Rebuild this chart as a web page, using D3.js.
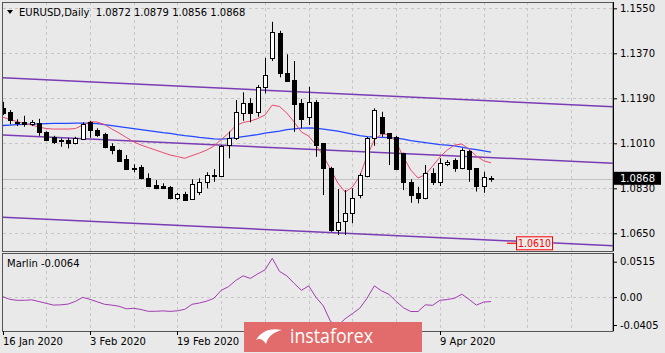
<!DOCTYPE html>
<html>
<head>
<meta charset="utf-8">
<script src="https://cdn.jsdelivr.net/npm/d3@7"></script>
<style>
body { margin: 0; background: #e9e9e9; }
svg { display: block; font-family: "DejaVu Sans", sans-serif; }
</style>
</head>
<body>
<script>
// daily EURUSD bars, index 0 = 16 Jan 2020
const opens = [1.1150,1.1136,1.1094,1.1095,1.1088,1.1090,1.1054,1.1034,1.1023,1.1022,1.1010,1.1027,1.1094,1.1064,1.1046,1.0999,1.0983,1.0947,1.0913,1.0916,1.0872,1.0843,1.0838,1.0836,1.0790,1.0806,1.0787,1.0814,1.0854,1.0880,1.0880,1.1000,1.1030,1.1132,1.1170,1.1136,1.1236,1.1350,1.1450,1.1290,1.1262,1.1170,1.1116,1.1176,1.1010,1.0912,1.0663,1.0697,1.0730,1.0803,1.0879,1.1030,1.1116,1.1050,1.1036,1.0970,1.0856,1.0812,1.0790,1.0890,1.0856,1.0927,1.0943,1.0910,1.0980,1.0910,1.0839,1.0872];
const highs = [1.1176,1.1143,1.1106,1.1120,1.1103,1.1108,1.1058,1.1040,1.1030,1.1032,1.1036,1.1094,1.1100,1.1070,1.1052,1.1010,1.0986,1.0963,1.0926,1.0923,1.0890,1.0863,1.0850,1.0839,1.0812,1.0816,1.0866,1.0870,1.0894,1.0907,1.1003,1.1057,1.1183,1.1214,1.1190,1.1243,1.1352,1.1496,1.1460,1.1366,1.1339,1.1187,1.1236,1.1183,1.1010,1.0916,1.0827,1.0823,1.0830,1.0890,1.1036,1.1150,1.1136,1.1050,1.1039,1.0972,1.0866,1.0836,1.0923,1.0910,1.0950,1.0943,1.0950,1.0990,1.0983,1.0910,1.0896,1.0879];
const lows = [1.1123,1.1086,1.1079,1.1076,1.1079,1.1040,1.1019,1.1007,1.0996,1.0990,1.1006,1.1023,1.1032,1.1036,1.0990,1.0966,1.0936,1.0903,1.0894,1.0866,1.0836,1.0826,1.0827,1.0786,1.0783,1.0779,1.0783,1.0803,1.0830,1.0856,1.0878,1.0950,1.1023,1.1100,1.1094,1.1116,1.1210,1.1339,1.1274,1.1256,1.1056,1.1070,1.1083,1.0956,1.0803,1.0656,1.0643,1.0643,1.0690,1.0790,1.0874,1.1000,1.1036,1.0923,1.0903,1.0823,1.0772,1.0770,1.0786,1.0843,1.0839,1.0919,1.0896,1.0906,1.0856,1.0817,1.0812,1.0856];
const closes = [1.1130,1.1103,1.1089,1.1086,1.1096,1.1054,1.1023,1.1014,1.1018,1.1011,1.1032,1.1086,1.1063,1.1042,1.0994,1.0983,1.0940,1.0907,1.0911,1.0872,1.0840,1.0830,1.0832,1.0790,1.0806,1.0783,1.0846,1.0854,1.0883,1.0882,1.0999,1.1030,1.1134,1.1170,1.1132,1.1236,1.1283,1.1454,1.1290,1.1260,1.1166,1.1106,1.1176,1.1003,1.0912,1.0663,1.0694,1.0730,1.0790,1.0883,1.1030,1.1143,1.1050,1.1030,1.0906,1.0856,1.0803,1.0790,1.0890,1.0856,1.0930,1.0936,1.0910,1.0983,1.0910,1.0837,1.0874,1.0868];

// moving averages as drawn
const maFast = [1.1115,1.1105,1.1097,1.1089,1.1083,1.1075,1.1069,1.1067,1.1067,1.1067,1.1069,1.1083,1.1096,1.1095,1.1085,1.1067,1.1051,1.1033,1.1016,1.1003,1.0993,1.0983,1.0973,1.0963,1.0957,1.0950,1.0961,1.0971,1.0983,1.0999,1.1025,1.1050,1.1081,1.1093,1.1099,1.1109,1.1123,1.1163,1.1157,1.1131,1.1095,1.1055,1.1039,1.1003,1.0959,1.0907,1.0851,1.0815,1.0835,1.0879,1.0959,1.1023,1.1047,1.1045,1.1015,1.0955,1.0903,1.0871,1.0885,1.0919,1.0955,1.0983,1.1003,1.1007,1.0987,1.0959,1.0940,1.0932];
const maSlow = [1.1081,1.1083,1.1085,1.1086,1.1087,1.1088,1.1089,1.1090,1.1090,1.1090,1.1091,1.1091,1.1090,1.1089,1.1085,1.1081,1.1077,1.1073,1.1069,1.1065,1.1061,1.1057,1.1053,1.1050,1.1045,1.1041,1.1038,1.1034,1.1031,1.1028,1.1027,1.1029,1.1033,1.1037,1.1041,1.1045,1.1051,1.1055,1.1059,1.1065,1.1068,1.1071,1.1072,1.1071,1.1067,1.1063,1.1059,1.1053,1.1047,1.1041,1.1037,1.1035,1.1034,1.1033,1.1031,1.1027,1.1021,1.1017,1.1013,1.1009,1.1005,1.1003,1.1000,1.0995,1.0989,1.0985,1.0980,1.0975];

// Marlin oscillator
const marlin = [0.0009,-0.0032,-0.0046,-0.0046,-0.0039,-0.0064,-0.0090,-0.0116,-0.0112,-0.0101,-0.0061,-0.0003,-0.0032,-0.0068,-0.0104,-0.0116,-0.0133,-0.0170,-0.0162,-0.0180,-0.0206,-0.0206,-0.0200,-0.0207,-0.0199,-0.0177,-0.0104,-0.0086,-0.0058,-0.0017,0.0099,0.0152,0.0243,0.0309,0.0272,0.0338,0.0396,0.0565,0.0374,0.0309,0.0200,0.0099,0.0164,-0.0003,-0.0126,-0.0354,-0.0416,-0.0314,-0.0239,-0.0162,-0.0017,0.0164,0.0091,0.0041,-0.0061,-0.0155,-0.0209,-0.0209,-0.0112,-0.0119,-0.0046,-0.0035,-0.0017,0.0043,-0.0032,-0.0116,-0.0072,-0.0064];

// channel lines: [startIndex, startPrice, endIndex, endPrice]
const channelUpper = [0, 1.1272, 84, 1.1156];
const channelMiddle = [0, 1.1043, 84, 1.0930];
const channelLower = [0, 1.0714, 84, 1.0600];
const targetLevel = 1.0610;

const priceTicks = [1.0650, 1.0830, 1.1010, 1.1190, 1.1370, 1.1550];
const marlinTicks = [0.0515, 0, -0.0405];
const marlinTickLabels = ["0.0515", "0.00", "-0.0405"];
const dateTickIndex = [0, 12, 24, 60];
const dateTickLabels = ["16 Jan 2020", "3 Feb 2020", "19 Feb 2020", "9 Apr 2020"];

const L = 2.5, R = 613, mainTop = 2, mainBot = 251, indTop = 253, indBot = 331;
const fmt4 = v => d3.format(".4f")(v).replace("\u2212", "-");

const svg = d3.select("body").append("svg")
    .attr("width", 665)
    .attr("height", 353);

svg.append("rect").attr("width", 665).attr("height", 353).attr("fill", "#e9e9e9");

const x = d3.scaleLinear().domain([0, 84]).range([2.5, 614.9]);
const y = d3.scaleLinear().domain([1.0650, 1.1550]).range([233.3, 8.3]);
const ym = d3.scaleLinear().domain([-0.0405, 0.0515]).range([325, 261.7]);

const defs = svg.append("defs");
defs.append("clipPath").attr("id", "clipMain")
    .append("rect").attr("x", 3).attr("y", mainTop + 1).attr("width", R - 3).attr("height", mainBot - mainTop - 1);
defs.append("clipPath").attr("id", "clipInd")
    .append("rect").attr("x", 3).attr("y", indTop + 1).attr("width", R - 3).attr("height", indBot - indTop - 1);

// grid
const gridX = d3.range(6, 84, 6);
const grid = svg.append("g").attr("stroke", "#c6c6c6").attr("stroke-dasharray", "3,3").attr("shape-rendering", "crispEdges");
gridX.forEach(i => {
    grid.append("line").attr("x1", Math.round(x(i)) + 0.5).attr("x2", Math.round(x(i)) + 0.5)
        .attr("y1", mainTop).attr("y2", mainBot);
    grid.append("line").attr("x1", Math.round(x(i)) + 0.5).attr("x2", Math.round(x(i)) + 0.5)
        .attr("y1", indTop).attr("y2", indBot);
});
priceTicks.forEach(p => {
    grid.append("line").attr("x1", L).attr("x2", R).attr("y1", Math.round(y(p)) + 0.5).attr("y2", Math.round(y(p)) + 0.5);
});
grid.append("line").attr("x1", L).attr("x2", R).attr("y1", Math.round(ym(0)) + 0.5).attr("y2", Math.round(ym(0)) + 0.5);

const main = svg.append("g").attr("clip-path", "url(#clipMain)");

// bid line
main.append("line").attr("x1", L).attr("x2", R)
    .attr("y1", Math.round(y(closes[closes.length - 1])) + 0.5).attr("y2", Math.round(y(closes[closes.length - 1])) + 0.5)
    .attr("stroke", "#c2c2c2");

// channel lines
[channelUpper, channelMiddle, channelLower].forEach(c => {
    main.append("line")
        .attr("x1", x(c[0]) - 3).attr("y1", y(c[1]) - 3 * (y(c[3]) - y(c[1])) / (x(c[2]) - x(c[0])))
        .attr("x2", x(c[2])).attr("y2", y(c[3]))
        .attr("stroke", "#7a3cb4").attr("stroke-width", 1.5);
});

// moving averages
const lineGen = arr => d3.line().x((d, i) => x(i)).y(d => y(d))(arr);
main.append("path").attr("d", lineGen(maSlow)).attr("fill", "none").attr("stroke", "#2448ff").attr("stroke-width", 1.3);
main.append("path").attr("d", lineGen(maFast)).attr("fill", "none").attr("stroke", "#f0466e").attr("stroke-width", 1);

// candles
const bars = d3.range(opens.length);
main.selectAll("line.wick").data(bars).enter().append("line")
    .attr("class", "wick")
    .attr("x1", i => Math.round(x(i)) + 0.5).attr("x2", i => Math.round(x(i)) + 0.5)
    .attr("y1", i => y(highs[i])).attr("y2", i => y(lows[i]))
    .attr("stroke", "#000");
main.selectAll("rect.body").data(bars).enter().append("rect")
    .attr("class", "body")
    .attr("x", i => Math.round(x(i)) - 1.5)
    .attr("y", i => Math.round(y(Math.max(opens[i], closes[i]))) + 0.5)
    .attr("width", 4)
    .attr("height", i => Math.max(1, Math.round(Math.abs(y(opens[i]) - y(closes[i])))))
    .attr("fill", i => closes[i] >= opens[i] ? "#fff" : "#000")
    .attr("stroke", "#000");

// target level label
const ty = y(targetLevel);
svg.append("line").attr("x1", 507).attr("x2", 517).attr("y1", ty).attr("y2", ty).attr("stroke", "#ff3030").attr("stroke-width", 1.5);
svg.append("rect").attr("x", 516.5).attr("y", ty - 6.5).attr("width", 36).attr("height", 13)
    .attr("fill", "#ececec").attr("stroke", "#ff0000");
svg.append("text").attr("x", 518).attr("y", ty + 4).attr("font-size", 10).attr("fill", "#ff0000")
    .attr("textLength", 33).attr("lengthAdjust", "spacingAndGlyphs")
    .text(fmt4(targetLevel));

// panel borders
svg.append("rect").attr("x", L).attr("y", mainTop + 0.5).attr("width", R - L).attr("height", mainBot - mainTop)
    .attr("fill", "none").attr("stroke", "#555");
svg.append("rect").attr("x", L).attr("y", indTop + 0.5).attr("width", R - L).attr("height", indBot - indTop)
    .attr("fill", "none").attr("stroke", "#555");

// right price axis
const yAxis = d3.axisRight(y).tickValues(priceTicks).tickFormat(fmt4).tickSize(4).tickPadding(3);
const ga = svg.append("g").attr("transform", `translate(${R},0)`).call(yAxis);
ga.select(".domain").attr("stroke", "#000").attr("d", `M0.5,${mainTop}V${mainBot}`);
ga.selectAll("text").attr("font-size", 10).attr("font-family", "DejaVu Sans, sans-serif").attr("fill", "#000");

// current price box
const last = closes.length - 1;
svg.append("rect").attr("x", 614).attr("y", y(closes[last]) - 7).attr("width", 47).attr("height", 13).attr("fill", "#000");
svg.append("text").attr("x", 620).attr("y", y(closes[last]) + 3.5).attr("font-size", 10).attr("fill", "#fff")
    .text(fmt4(closes[last]));

// Marlin panel
const ind = svg.append("g").attr("clip-path", "url(#clipInd)");
ind.append("path")
    .attr("d", d3.line().x((d, i) => x(i)).y(d => ym(d))(marlin))
    .attr("fill", "none").attr("stroke", "#a33bb3").attr("stroke-width", 1);

const mAxis = d3.axisRight(ym).tickValues(marlinTicks).tickFormat((d, i) => marlinTickLabels[i]).tickSize(4).tickPadding(3);
const gm = svg.append("g").attr("transform", `translate(${R},0)`).call(mAxis);
gm.select(".domain").attr("stroke", "#000").attr("d", `M0.5,${indTop}V${indBot}`);
gm.selectAll("text").attr("font-size", 10).attr("font-family", "DejaVu Sans, sans-serif").attr("fill", "#000");

svg.append("text").attr("x", 7).attr("y", 267).attr("font-size", 10)
    .text("Marlin " + fmt4(marlin[marlin.length - 1]));

// date axis
dateTickIndex.forEach((i, k) => {
    const xx = Math.round(x(i)) + 0.5;
    svg.append("line").attr("x1", xx).attr("x2", xx).attr("y1", indBot).attr("y2", indBot + 4).attr("stroke", "#000");
    svg.append("text").attr("x", Math.max(3, xx - 0.5)).attr("y", 345).attr("font-size", 10).text(dateTickLabels[k]);
});

// header
svg.append("path").attr("d", "M7,10 L13,10 L10,14 Z").attr("fill", "#000");
svg.append("text").attr("x", 19).attr("y", 16).attr("font-size", 10).attr("xml:space", "preserve")
    .text("EURUSD,Daily  " + [opens[last], highs[last], lows[last], closes[last]].map(fmt4).join(" "));

// watermark
const wm = svg.append("g");
wm.append("rect").attr("x", 244).attr("y", 322).attr("width", 178).attr("height", 30).attr("fill", "#e26b6b");
wm.append("path").attr("d", "M256,340 C262,330 272,328 282,330 C274,332 268,336 266,344 C263,339 259,338 256,340 Z").attr("fill", "#fff");
wm.append("text").attr("x", 290).attr("y", 343).attr("font-size", 20).attr("fill", "#fff")
    .attr("font-family", "Open Sans, sans-serif").attr("textLength", 83).attr("lengthAdjust", "spacingAndGlyphs").text("instaforex");
</script>
</body>
</html>
